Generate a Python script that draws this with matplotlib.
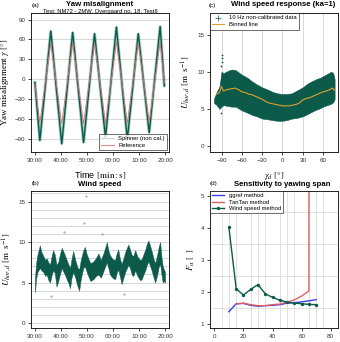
import matplotlib
matplotlib.use("Agg")
import matplotlib.pyplot as plt

plt.rcParams['font.family'] = ['Liberation Sans', 'DejaVu Sans']
plt.rcParams['mathtext.fontset'] = 'stix'

# ---- (a) yaw misalignment ----
yaw_time = [30.0, 31.9, 36.1, 40.3, 44.5, 48.7, 52.9, 57.1, 61.3, 65.5, 69.7, 73.9, 78.1, 79.7]
spinner = [-5, -93, 73, -98, 71, -96, 69, -88, 79, -91, 69, -81, 80, -10]
reference = [-8, -66, 55, -67, 55, -67, 55, -66, 56, -66, 55, -65, 56, -5]

# ---- (b) wind speed time series (lower / upper envelope of the 10 Hz data) ----
ws_time = [30.0, 30.5, 31.0, 31.9, 32.5, 33.2, 34.0, 34.5, 35.2, 35.8, 36.5, 37.0, 37.6, 38.3,
           39.0, 39.6, 40.3, 41.0, 41.5, 42.2, 42.8, 43.5, 44.0, 44.7, 45.5, 46.3, 47.0, 47.5,
           48.0, 48.6, 49.2, 49.8, 50.5, 51.3, 52.4, 53.4, 54.4, 55.3, 56.3, 57.0, 57.6, 58.2,
           58.8, 59.8, 60.8, 61.4, 62.0, 62.6, 63.3, 64.0, 64.8, 65.9, 66.5, 67.2, 67.8, 68.5,
           69.4, 70.4, 71.0, 71.7, 72.5, 73.0, 73.6, 74.3, 74.9, 75.6, 76.2, 77.0, 77.6, 78.1,
           78.6, 79.1, 79.6, 80.0]
ws_lo = [3.8, 5.5, 6.3, 6.8, 6.5, 6.3, 5.8, 6.0, 5.3, 5.0, 6.0, 6.5, 6.2, 4.5,
         5.2, 6.0, 6.8, 6.3, 6.0, 5.4, 5.0, 4.3, 5.5, 6.3, 5.6, 4.6, 4.0, 5.2,
         6.0, 6.8, 7.0, 6.4, 5.8, 5.2, 5.4, 5.8, 6.0, 5.6, 6.4, 7.0, 7.5, 6.8,
         6.0, 5.6, 5.4, 6.2, 6.6, 5.8, 4.8, 5.6, 6.4, 7.2, 6.8, 6.0, 5.8, 6.5,
         5.8, 5.3, 5.4, 6.0, 6.6, 7.2, 7.6, 7.0, 6.4, 5.6, 5.0, 6.0, 7.0, 7.3,
         6.0, 5.0, 5.2, 5.0]
ws_hi = [5.5, 7.5, 8.5, 9.6, 8.8, 8.3, 7.8, 8.0, 7.5, 7.2, 8.4, 9.0, 8.5, 7.2,
         7.6, 8.5, 9.3, 8.8, 8.4, 7.8, 7.3, 6.8, 7.8, 8.9, 7.8, 6.9, 6.6, 7.6,
         8.3, 9.0, 9.4, 8.6, 8.0, 7.4, 7.6, 8.0, 8.6, 7.8, 8.6, 9.3, 10.0, 9.0,
         8.4, 7.9, 7.8, 8.6, 9.1, 8.0, 7.3, 8.0, 8.9, 9.7, 9.1, 8.4, 8.3, 9.0,
         8.2, 7.8, 7.9, 8.5, 9.2, 9.8, 10.2, 9.5, 8.8, 7.9, 7.4, 8.5, 9.5, 10.0,
         8.2, 7.0, 6.6, 6.3]
ws_out_t = [49.5, 48.8, 41.3, 55.8, 36.0, 64.2]
ws_out_u = [15.7, 12.3, 11.2, 11.0, 3.4, 3.6]

# ---- (c) wind speed response vs yaw ----
gam = [-101, -97, -93, -90, -87, -81, -75, -69, -60, -52, -45, -38, -30, -22, -15,
       -8, 0, 7, 14, 22, 30, 37, 43, 50, 56, 60, 66, 72, 75, 77]
cloud_hi = [6.4, 7.3, 8.0, 10.0, 9.8, 10.1, 10.3, 10.2, 9.6, 9.2, 8.7, 8.3, 7.9, 7.6, 7.3,
            7.1, 7.0, 7.0, 7.1, 7.5, 7.9, 8.4, 8.7, 9.0, 9.2, 9.4, 9.7, 10.0, 9.8, 9.0]
cloud_lo = [5.8, 5.5, 5.0, 5.3, 5.5, 5.4, 5.3, 5.3, 4.8, 4.5, 4.2, 4.0, 3.7, 3.6, 3.5,
            3.4, 3.4, 3.5, 3.7, 3.8, 4.0, 4.3, 4.6, 4.9, 5.1, 5.3, 5.5, 5.7, 5.9, 6.3]
out_gam = [-90, -90, -89, -90.5, -91, -99]
out_u = [12.3, 11.8, 11.3, 10.8, 4.4, 6.0]
gam_bin = [-97, -93, -90, -87, -82, -76, -70, -65, -60, -55, -50, -45, -40, -35, -30, -25,
           -20, -15, -10, -5, 0, 5, 10, 15, 20, 25, 30, 35, 40, 45, 50, 55, 60, 65, 70, 74, 77]
u_bin = [7.0, 7.2, 8.0, 7.4, 7.6, 7.7, 7.8, 7.6, 7.3, 7.2, 7.0, 6.9, 6.7, 6.5, 6.3, 6.0,
         5.8, 5.7, 5.6, 5.5, 5.4, 5.4, 5.4, 5.5, 5.6, 5.8, 6.2, 6.4, 6.5, 6.7, 6.9, 7.1,
         7.3, 7.4, 7.6, 7.8, 7.5]

# ---- (d) sensitivity to yawing span ----
span = [10, 15, 20, 25, 30, 35, 40, 45, 50, 55, 60, 65, 70]
f_ggref = [1.38, 1.63, 1.64, 1.58, 1.55, 1.57, 1.58, 1.60, 1.65, 1.66, 1.69, 1.72, 1.76]
span_tan = [15, 20, 25, 30, 35, 40, 45, 50, 55, 60, 65, 70]
f_tantan = [1.62, 1.65, 1.60, 1.57, 1.57, 1.60, 1.62, 1.68, 1.75, 1.87, 2.03, 1000]
f_wind = [4.02, 2.10, 1.90, 2.08, 2.23, 1.94, 1.83, 1.74, 1.68, 1.65, 1.63, 1.61, 1.60]

teal = '#0b5a4a'
fs_tick = 4.5
fs_title = 5.6
W, H = 340, 342


def box(l, t, r, b):
    return [l / W, 1 - b / H, (r - l) / W, (b - t) / H]


def style(ax):
    for s in ax.spines.values():
        s.set_linewidth(0.6)
    ax.tick_params(labelsize=fs_tick, length=2, width=0.5, pad=2, labelcolor='#333333')


fig = plt.figure(figsize=(3.4, 3.42), dpi=100)

# (a)
ax = fig.add_axes(box(31, 13, 169, 152))
style(ax)
for v in range(-90, 91, 30):
    ax.axhline(v, color='#c8c8c8', lw=0.5, zorder=0)
ax.plot(yaw_time, spinner, color='#5fa896', lw=2.2, alpha=0.6, solid_joinstyle='miter')
ax.plot(yaw_time, spinner, color=teal, lw=1.0, label='Spinner (non cal.)')
ax.plot(yaw_time, reference, color='#e07070', lw=0.6, label='Reference')
ax.set_xlim(28.5, 81.5)
ax.set_ylim(-110, 100)
ax.set_yticks(range(-90, 91, 30))
ax.set_xticks([30, 40, 50, 60, 70, 80])
ax.set_xticklabels(['30:00', '40:00', '50:00', '00:00', '10:00', '20:00'])
ax.set_ylabel(r'Yaw misalignment $\gamma$ $[°]$', family='Liberation Serif', fontsize=6.5, labelpad=3)
ax.set_xlabel(r'Time $[\mathrm{min{:}s}]$', fontsize=6.5, labelpad=5)
leg = ax.legend(loc='lower right', fontsize=4.2, frameon=True, fancybox=False, borderaxespad=0.3,
                handlelength=2.2, borderpad=0.4, labelspacing=0.3)
leg.get_frame().set_edgecolor('black')
leg.get_frame().set_linewidth(0.5)
leg.get_lines()[0].set_color('#bcd6cf')
leg.get_lines()[0].set_linewidth(0.6)
fig.text(36 / W, 1 - 5 / H, '(a)', fontsize=4.5, ha='center', va='center')
fig.text(100 / W, 1 - 5 / H, 'Yaw misalignment', fontsize=fs_title, weight='bold', ha='center', va='center')
fig.text(100 / W, 1 - 11 / H, 'Test: NM72 - 2MW, Overgaard no. 18, Test6', fontsize=4.2,
         ha='center', va='center')

# (b)
ax = fig.add_axes(box(31, 191, 169, 328))
style(ax)
for v in range(0, 17):
    ax.axhline(v, color='#c8c8c8', lw=0.5, zorder=0)
ax.fill_between(ws_time, ws_lo, ws_hi, color=teal, lw=0.3, edgecolor=teal)
ax.scatter(ws_out_t, ws_out_u, s=0.4, color='#9ab5ae')
ax.set_xlim(28.5, 81.5)
ax.set_ylim(-0.6, 16.3)
ax.set_yticks([0, 5, 10, 15])
ax.set_xticks([30, 40, 50, 60, 70, 80])
ax.set_xticklabels(['30:00', '40:00', '50:00', '00:00', '10:00', '20:00'])
ax.set_ylabel(r'$U_{hor,d}\ [\mathrm{m\ \ s^{-1}}]$', fontsize=6.5, labelpad=3)
fig.text(36 / W, 1 - 184 / H, '(b)', fontsize=4.5, ha='center', va='center')
fig.text(100 / W, 1 - 184 / H, 'Wind speed', fontsize=fs_title, weight='bold', ha='center', va='center')

# (c)
ax = fig.add_axes(box(210, 13, 338, 152))
style(ax)
for v in range(-90, 61, 30):
    ax.axvline(v, color='#c8c8c8', lw=0.5, zorder=0)
ax.fill_between(gam, cloud_lo, cloud_hi, color=teal, lw=0.4, edgecolor=teal)
ax.scatter(out_gam, out_u, s=1.5, color=teal, marker='+', lw=0.5,
           label='10 Hz non-calibrated data')
ax.plot(gam_bin, u_bin, color='#e0a030', lw=0.8, label='Binned line')
ax.set_xlim(-107, 82)
ax.set_ylim(-0.8, 17.9)
ax.set_yticks([0, 5, 10, 15])
ax.set_xticks(range(-90, 61, 30))
ax.set_ylabel(r'$U_{hor,d}\ [\mathrm{m\ \ s^{-1}}]$', fontsize=6.5, labelpad=3)
ax.set_xlabel(r'$\gamma_d\ [°]$', fontsize=6.5, labelpad=5)
leg = ax.legend(loc='upper left', fontsize=4.2, frameon=True, fancybox=False, borderaxespad=0,
                handlelength=2.0, borderpad=0.4, labelspacing=0.3, markerscale=3)
leg.get_frame().set_edgecolor('black')
leg.get_frame().set_linewidth(0.5)
fig.text(212 / W, 1 - 5 / H, '(c)', fontsize=4.5, ha='center', va='center')
fig.text(283 / W, 1 - 5 / H, 'Wind speed response (ka=1)', fontsize=fs_title, weight='bold',
         ha='center', va='center')

# (d)
ax = fig.add_axes(box(210, 191, 338, 328))
style(ax)
ax.set_xticks(range(0, 81, 5), minor=True)
ax.set_yticks([1 + 0.5 * i for i in range(9)], minor=True)
ax.grid(which='minor', color='#d4d4d4', lw=0.5)
ax.tick_params(which='minor', length=0)
ax.set_axisbelow(True)
ax.plot(span, f_ggref, color='#3a3aef', lw=1.0, label='ggref method')
ax.plot(span_tan, f_tantan, color='#e06060', lw=1.0, label='TanTan method')
ax.plot(span, f_wind, color=teal, lw=1.0, marker='o', ms=1.4, label='Wind speed method')
ax.set_xlim(-3, 85)
ax.set_ylim(0.87, 5.16)
ax.set_xticks([0, 20, 40, 60, 80])
ax.set_yticks([1, 2, 3, 4, 5])
ax.set_ylabel(r'$F_\alpha\ [\ \ ]$', fontsize=6.5, labelpad=3)
leg = ax.legend(loc='upper left', fontsize=4.2, frameon=True, fancybox=False, borderaxespad=0,
                handlelength=2.0, borderpad=0.4, labelspacing=0.2)
leg.get_frame().set_edgecolor('black')
leg.get_frame().set_linewidth(0.5)
fig.text(213 / W, 1 - 184 / H, '(d)', fontsize=4.5, ha='center', va='center')
fig.text(282 / W, 1 - 184 / H, 'Sensitivity to yawing span', fontsize=fs_title, weight='bold',
         ha='center', va='center')

fig.savefig('out.png', dpi=100)
